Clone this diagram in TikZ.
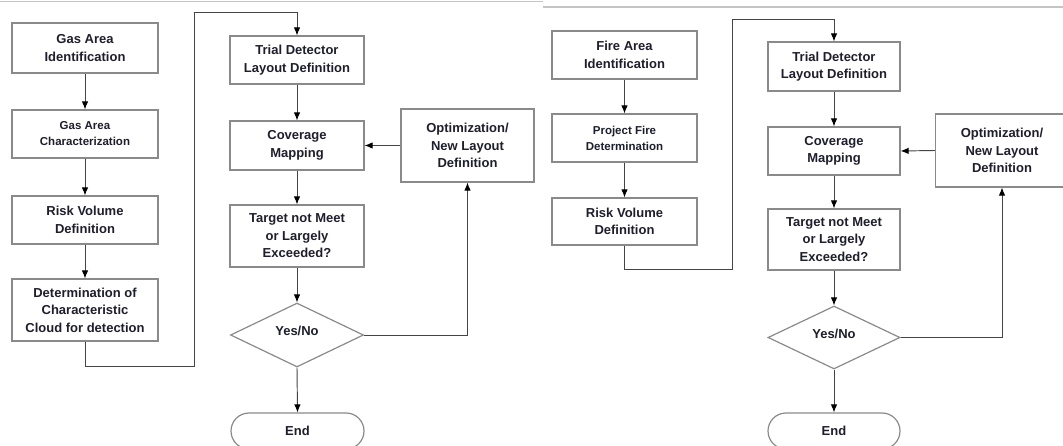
\documentclass[tikz,border=0pt]{standalone}
\usepackage{fontspec}
\setmainfont{Liberation Sans}
\usetikzlibrary{shapes.geometric,arrows.meta}
\definecolor{boxgray}{HTML}{8A8A8A}
\definecolor{linegray}{HTML}{444444}
\definecolor{txt}{HTML}{1E1E2C}
\definecolor{rulegray}{HTML}{C4C4C4}
\begin{document}
\begin{tikzpicture}[x=1pt,y=-1pt,
  box/.style={draw=boxgray,line width=1.2pt,rectangle,inner sep=0pt,text=txt,align=center,
    font=\bfseries\fontsize{13}{17.5}\selectfont},
  smallbox/.style={box,font=\bfseries\fontsize{11.5}{16}\selectfont},
  dia/.style={draw=boxgray,line width=1.2pt,diamond,inner sep=0pt},
  endbox/.style={box,rounded corners=18pt},
  yesno/.style={label={[text=txt,font=\bfseries\fontsize{13}{17.5}\selectfont,yshift=4pt]center:Yes/No}},
  conn/.style={draw=linegray,line width=0.95pt,-{Latex[length=8pt,width=6.5pt,color=black]}},
  topline/.style={draw=rulegray,line width=1.4pt}
]
\useasboundingbox (0,0) rectangle (1063,446);

% top rules
\coordinate (r1a) at (0,1.5);
\coordinate (r1b) at (543,1.5);
\coordinate (r2a) at (543,7);
\coordinate (r2b) at (1063,7);
\draw[topline] (r1a) -- (r1b);
\draw[topline] (r2a) -- (r2b);

% ---------- left panel ----------
\node[box,minimum width=146pt,minimum height=50pt] (g1) at (85,48) {Gas Area\\Identification};
\node[smallbox,minimum width=146pt,minimum height=48pt] (g2) at (85,134) {Gas Area\\Characterization};
\node[box,minimum width=146pt,minimum height=48pt] (g3) at (85,220) {Risk Volume\\Definition};
\node[box,minimum width=146pt,minimum height=62pt] (g4) at (85,310) {Determination of\\Characteristic\\Cloud for detection};
\node[box,minimum width=134pt,minimum height=48pt] (t1) at (297,60) {Trial Detector\\Layout Definition};
\node[box,minimum width=134pt,minimum height=49pt] (c1) at (297,145.5) {Coverage\\Mapping};
\node[box,minimum width=134pt,minimum height=62pt] (q1) at (297,236) {Target not Meet\\or Largely\\Exceeded?};
\node[dia,yesno,minimum width=133pt,minimum height=64pt] (d1) at (297,335) {};
\node[endbox,minimum width=133pt,minimum height=36pt] (e1) at (297.5,431) {End};
\node[box,minimum width=133pt,minimum height=73pt] (o1) at (467.5,145.5) {Optimization/\\New Layout\\Definition};

\coordinate (lb) at (194,366);
\coordinate (lt) at (194,12);

\draw[conn] (g1.south) -- (g2.north);
\draw[conn] (g2.south) -- (g3.north);
\draw[conn] (g3.south) -- (g4.north);
\draw[conn] (g4.south) |- (lb) -- (lt) -| (t1.north);
\draw[conn] (t1.south) -- (c1.north);
\draw[conn] (c1.south) -- (q1.north);
\draw[conn] (q1.south) -- (d1.north);
\draw[conn] (d1.south) -- (e1.north);
\draw[conn] (d1.east) -| (o1.south);
\draw[conn] (o1.west) -- (c1.east);

% ---------- right panel ----------
\node[box,minimum width=145pt,minimum height=48pt] (f1) at (624.5,55) {Fire Area\\Identification};
\node[smallbox,minimum width=145pt,minimum height=48pt] (f2) at (624.5,138) {Project Fire\\Determination};
\node[box,minimum width=145pt,minimum height=47pt] (f3) at (624.5,221.5) {Risk Volume\\Definition};
\node[box,minimum width=132pt,minimum height=49pt] (t2) at (834,66.5) {Trial Detector\\Layout Definition};
\node[box,minimum width=132pt,minimum height=48pt] (c2) at (834,151) {Coverage\\Mapping};
\node[box,minimum width=132pt,minimum height=61pt] (q2) at (834,239.5) {Target not Meet\\or Largely\\Exceeded?};
\node[dia,yesno,minimum width=132pt,minimum height=63pt] (d2) at (834,337.5) {};
\node[endbox,minimum width=132pt,minimum height=36pt] (e2) at (834,431) {End};
\node[box,minimum width=133pt,minimum height=73pt] (o2) at (1002,150.5) {Optimization/\\New Layout\\Definition};

\coordinate (rb) at (732,269);
\coordinate (rt) at (732,19);

\draw[conn] (f1.south) -- (f2.north);
\draw[conn] (f2.south) -- (f3.north);
\draw[conn] (f3.south) |- (rb) -- (rt) -| (t2.north);
\draw[conn] (t2.south) -- (c2.north);
\draw[conn] (c2.south) -- (q2.north);
\draw[conn] (q2.south) -- (d2.north);
\draw[conn] (d2.south) -- (e2.north);
\draw[conn] (d2.east) -| (o2.south);
\draw[conn] (o2.west) -- (c2.east);
\end{tikzpicture}
\end{document}
